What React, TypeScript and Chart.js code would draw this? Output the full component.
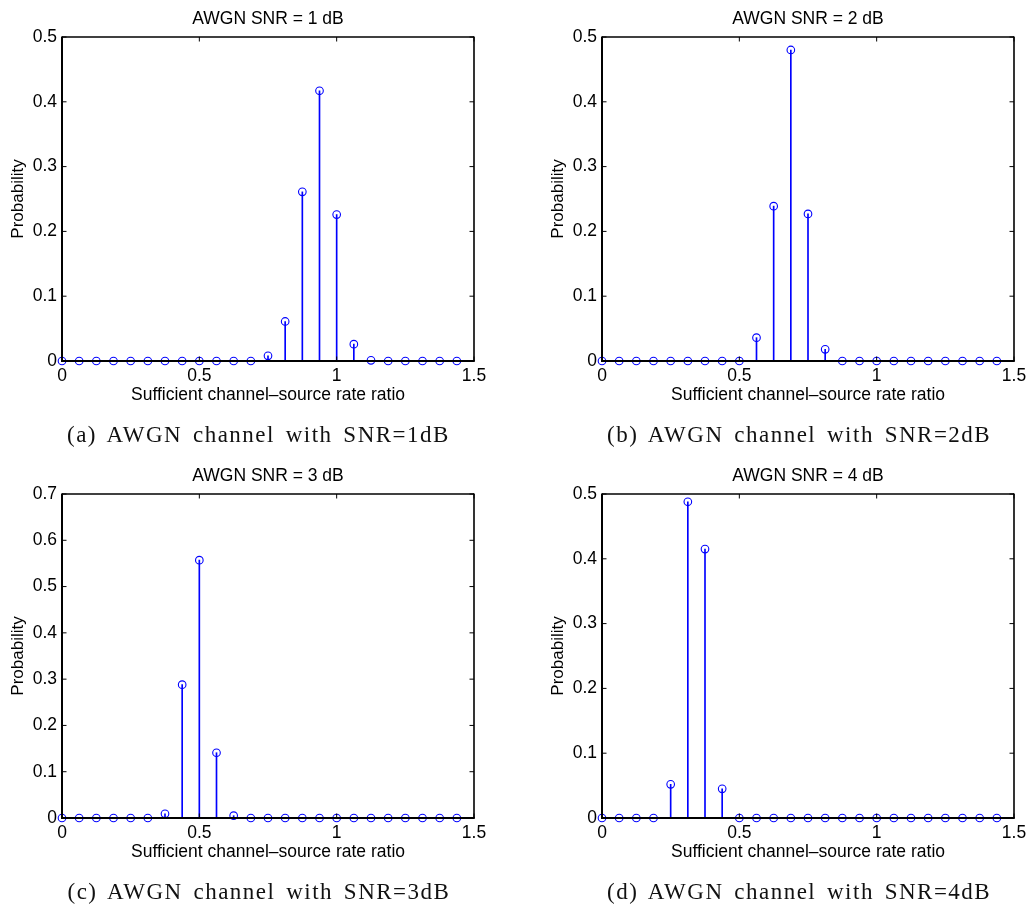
import React, { useEffect, useRef } from "react";
import { Chart, registerables } from "chart.js";

Chart.register(...registerables);

// Sufficient channel-source rate ratio (x positions of the stems)
const RATIOS = [
  0, 0.0625, 0.125, 0.1875, 0.25, 0.3125, 0.375, 0.4375, 0.5, 0.5625, 0.625, 0.6875,
  0.75, 0.8125, 0.875, 0.9375, 1, 1.0625, 1.125, 1.1875, 1.25, 1.3125, 1.375, 1.4375,
];

// Probability for each SNR
const SNR1_PROB = [
  0, 0, 0, 0, 0, 0, 0, 0, 0, 0, 0, 0,
  0.008, 0.061, 0.261, 0.417, 0.226, 0.026, 0.001, 0, 0, 0, 0, 0,
];
const SNR2_PROB = [
  0, 0, 0, 0, 0, 0, 0, 0, 0, 0.036, 0.239, 0.48,
  0.227, 0.018, 0, 0, 0, 0, 0, 0, 0, 0, 0, 0,
];
const SNR3_PROB = [
  0, 0, 0, 0, 0, 0, 0.009, 0.288, 0.557, 0.141, 0.005, 0,
  0, 0, 0, 0, 0, 0, 0, 0, 0, 0, 0, 0,
];
const SNR4_PROB = [
  0, 0, 0, 0, 0.052, 0.488, 0.415, 0.045, 0, 0, 0, 0,
  0, 0, 0, 0, 0, 0, 0, 0, 0, 0, 0, 0,
];

const TITLES = ["AWGN SNR = 1 dB", "AWGN SNR = 2 dB", "AWGN SNR = 3 dB", "AWGN SNR = 4 dB"];
const CAPTIONS = [
  "(a) AWGN channel with SNR=1dB",
  "(b) AWGN channel with SNR=2dB",
  "(c) AWGN channel with SNR=3dB",
  "(d) AWGN channel with SNR=4dB",
];
const Y_MAX = [0.5, 0.5, 0.7, 0.5];
const X_MAX = 1.5;
const X_STEP = 0.5;
const Y_STEP = 0.1;
const X_LABEL = "Sufficient channel\u2013source rate ratio";
const Y_LABEL = "Probability";

const SANS = '"Liberation Sans", Arial, Helvetica, sans-serif';
const SERIF = '"Liberation Serif", "Times New Roman", serif';
const BLUE = "rgb(0,0,255)";

const CW = 489;
const CH = 452;
const AREA = { left: 62, top: 37, right: 474, bottom: 361 };
const X_AXIS_H = 30;

const fmt = (v: number | string) => {
  const n = Number(v);
  const s = (Math.round(n * 10) / 10).toFixed(1);
  return s.endsWith(".0") ? s.slice(0, -2) : s;
};

function StemChart({ values, title, yMax }: { values: number[]; title: string; yMax: number }) {
  const ref = useRef<HTMLCanvasElement>(null);
  useEffect(() => {
    const canvas = ref.current!;
    const decor = {
      id: "decor",
      afterDatasetsDraw(chart: any) {
        const { ctx, chartArea: ca, scales } = chart;
        const xs = scales.x;
        const ys = scales.y;
        const line = (x1: number, y1: number, x2: number, y2: number, w: number) => {
          ctx.lineWidth = w;
          ctx.beginPath();
          ctx.moveTo(x1, y1);
          ctx.lineTo(x2, y2);
          ctx.stroke();
        };
        ctx.save();
        ctx.strokeStyle = "#000";
        const tl = 4.5;
        ys.ticks.forEach((t: any) => {
          const py = ys.getPixelForValue(t.value);
          line(ca.left, py, ca.left + tl, py, 1);
          line(ca.right, py, ca.right - tl, py, 1);
        });
        xs.ticks.forEach((t: any) => {
          const px = xs.getPixelForValue(t.value);
          line(px, ca.top, px, ca.top + tl, 1);
          line(px, ca.bottom, px, ca.bottom - tl, 1);
        });
        // axes box
        line(ca.left, ca.top, ca.right, ca.top, 1.3);
        line(ca.left, ca.top - 0.6, ca.left, ca.bottom, 2);
        line(ca.right, ca.top - 0.6, ca.right, ca.bottom, 1.6);
        // stem baseline at y = 0
        const y0 = ys.getPixelForValue(0);
        line(xs.getPixelForValue(0) - 1, y0, xs.getPixelForValue(X_MAX) + 0.8, y0, 2.2);

        // texts
        ctx.fillStyle = "#000";
        ctx.textAlign = "center";
        ctx.textBaseline = "alphabetic";
        const cx = (ca.left + ca.right) / 2;
        ctx.font = `17.5px ${SANS}`;
        ctx.fillText(title, cx, 23.5);
        ctx.fillText(X_LABEL, cx, 400);
        ctx.save();
        ctx.translate(23.3, (ca.top + ca.bottom) / 2);
        ctx.rotate(-Math.PI / 2);
        ctx.font = `17px ${SANS}`;
        ctx.fillText(Y_LABEL, 0, 0);
        ctx.restore();
        ctx.restore();
      },
    };

    const pts = RATIOS.map((r, i) => ({ x: r, y: values[i] }));
    const chart = new Chart(canvas, {
      type: "scatter",
      data: {
        datasets: [
          {
            type: "scatter",
            data: pts,
            pointStyle: "circle",
            pointRadius: 3.8,
            pointBorderWidth: 1.1,
            pointBorderColor: BLUE,
            pointBackgroundColor: "rgba(0,0,0,0)",
            borderColor: BLUE,
            backgroundColor: "rgba(0,0,0,0)",
            clip: false,
            order: 0,
          } as any,
          {
            type: "bar",
            data: pts,
            backgroundColor: BLUE,
            borderWidth: 0,
            barThickness: 1,
            clip: false,
            order: 1,
          } as any,
        ],
      },
      options: {
        animation: false,
        responsive: false,
        devicePixelRatio: 1,
        events: [],
        layout: {
          padding: {
            left: 0,
            top: AREA.top,
            right: CW - AREA.right,
            bottom: CH - AREA.bottom - X_AXIS_H,
          },
        },
        plugins: {
          legend: { display: false },
          tooltip: { enabled: false },
          title: { display: false },
        },
        scales: {
          x: {
            type: "linear",
            min: 0,
            max: X_MAX,
            offset: false,
            grid: { display: false, drawTicks: false, tickLength: 0 },
            border: { display: false },
            ticks: {
              stepSize: X_STEP,
              autoSkip: false,
              maxRotation: 0,
              minRotation: 0,
              padding: 5,
              color: "#000",
              font: { family: SANS, size: 17.5 },
              callback: (v: any) => fmt(v),
            },
            afterFit: (s: any) => {
              s.height = X_AXIS_H;
              s.paddingLeft = 0;
              s.paddingRight = 0;
            },
          },
          y: {
            type: "linear",
            min: 0,
            max: yMax,
            grid: { display: false, drawTicks: false, tickLength: 0 },
            border: { display: false },
            ticks: {
              stepSize: Y_STEP,
              autoSkip: false,
              padding: 5,
              color: "#000",
              font: { family: SANS, size: 17.5 },
              callback: (v: any) => fmt(v),
            },
            afterFit: (s: any) => {
              s.width = AREA.left;
              s.paddingTop = 0;
              s.paddingBottom = 0;
            },
          },
        },
      } as any,
      plugins: [decor],
    });
    return () => chart.destroy();
  }, [values, title, yMax]);
  return <canvas ref={ref} width={CW} height={CH} style={{ width: CW, height: CH, display: "block" }} />;
}

const PANELS = [
  { values: SNR1_PROB, left: 0, top: 0, capLeft: 67 },
  { values: SNR2_PROB, left: 540, top: 0, capLeft: 607 },
  { values: SNR3_PROB, left: 0, top: 457, capLeft: 67.5 },
  { values: SNR4_PROB, left: 540, top: 457, capLeft: 607 },
];

export default function App() {
  return (
    <div
      style={{
        position: "absolute",
        left: 0,
        top: 0,
        width: 1029,
        height: 909,
        background: "#fff",
        overflow: "hidden",
      }}
    >
      {PANELS.map((p, i) => (
        <div key={i} style={{ position: "absolute", left: p.left, top: p.top, width: CW, height: CH }}>
          <StemChart values={p.values} title={TITLES[i]} yMax={Y_MAX[i]} />
          <div
            style={{
              position: "absolute",
              left: p.capLeft - p.left,
              top: 422.5,
              fontFamily: SERIF,
              fontSize: 23,
              lineHeight: "23px",
              letterSpacing: "1.5px",
              wordSpacing: "3.5px",
              whiteSpace: "nowrap",
              color: "#111",
            }}
          >
            {CAPTIONS[i]}
          </div>
        </div>
      ))}
    </div>
  );
}
